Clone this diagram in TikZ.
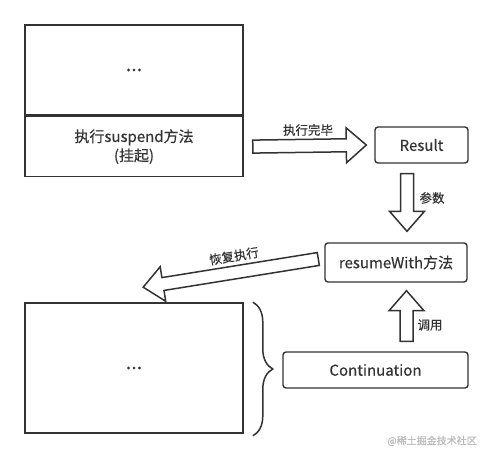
\documentclass[tikz,border=0pt]{standalone}
\usepackage{fontspec}
\setmainfont{Noto Sans CJK SC}[UprightFeatures={FakeBold=0.4}]
\usetikzlibrary{positioning,calc,decorations.pathreplacing}
\definecolor{dline}{HTML}{333333}
\definecolor{wmark}{HTML}{BBBBBB}

% hollow block arrow from #1 to #2
\newcommand{\blockarrow}[2]{%
  \draw[barrow] let \p1=($(#2)-(#1)$), \n1={atan2(\y1,\x1)}, \n2={veclen(\x1,\y1)} in
    [shift={(#1)},rotate=\n1]
    (0pt,-6.5pt) -- ({\n2-20pt},-6.5pt) -- ({\n2-20pt},-17.5pt) -- ({\n2+0pt},0pt)
    -- ({\n2-20pt},17.5pt) -- ({\n2-20pt},6.5pt) -- (0pt,6.5pt) -- cycle;}

\begin{document}
\begin{tikzpicture}[
  x=1pt,y=-1pt,
  font=\fontsize{15pt}{19pt}\selectfont,
  sq/.style={draw=dline,line width=1.6pt,minimum width=218pt,inner sep=0pt,
             align=center,text=dline},
  rbox/.style={draw=dline,line width=1.4pt,rounded corners=3pt,inner sep=0pt,
               align=center,text=dline},
  dots/.style={font=\fontsize{20pt}{20pt}\selectfont},
  barrow/.style={draw=dline,line width=1.5pt,fill=white},
  lbl/.style={font=\fontsize{12.5pt}{15pt}\selectfont,text=dline,inner sep=1pt},
  brc/.style={draw=dline,line width=1.5pt,decorate,
              decoration={brace,amplitude=20pt}}
]
\useasboundingbox (0,0) rectangle (492,460);

% left column
\node[sq,dots,minimum height=90pt] (topdots) at (134,70) {...};
\node[sq,minimum height=60pt,below=0pt of topdots] (suspend)
  {执行suspend方法\\(挂起)};
\node[sq,dots,minimum height=130pt] (bottomdots) at (134,368) {...};

% right column
\node[rbox,minimum width=93pt,minimum height=36pt] (result) at (421.5,145) {Result};
\node[rbox,minimum width=142pt,minimum height=39pt] (resume) at (396,262.5) {resumeWith方法};
\node[rbox,minimum width=185pt,minimum height=36pt] (cont) at (375.5,370) {Continuation};

% arrows
\coordinate (a1s) at ($(suspend.east)+(9,0)$);
\coordinate (a1e) at ($(result.west)+(-8,0)$);
\coordinate (a2s) at ($(result.south)+(-14.5,10)$);
\coordinate (a2e) at ($(resume.north)+(11,-11)$);
\coordinate (a3s) at ($(cont.north)+(31,-10)$);
\coordinate (a3e) at ($(resume.south)+(10.5,8)$);
\coordinate (a4s) at ($(resume.west)+(-6,-3.5)$);
\coordinate (a4e) at ($(bottomdots.north west)+(119,-15)$);
\blockarrow{a1s}{a1e}
\blockarrow{a2s}{a2e}
\blockarrow{a3s}{a3e}
\blockarrow{a4s}{a4e}

\node[lbl] (l1) at (308,130) {执行完毕};
\node[lbl] (l2) at (432,198) {参数};
\node[lbl] (l3) at (430,325) {调用};
\node[lbl,rotate=9.4] (l4) at (234,256) {恢复执行};

% brace
\draw[brc] ($(bottomdots.north east)+(9,0)$) -- ($(bottomdots.south east)+(9,2)$);

% watermark
\node[font=\fontsize{10pt}{12pt}\selectfont,text=wmark] (wm) at (432,441) {@稀土掘金技术社区};
\end{tikzpicture}
\end{document}
